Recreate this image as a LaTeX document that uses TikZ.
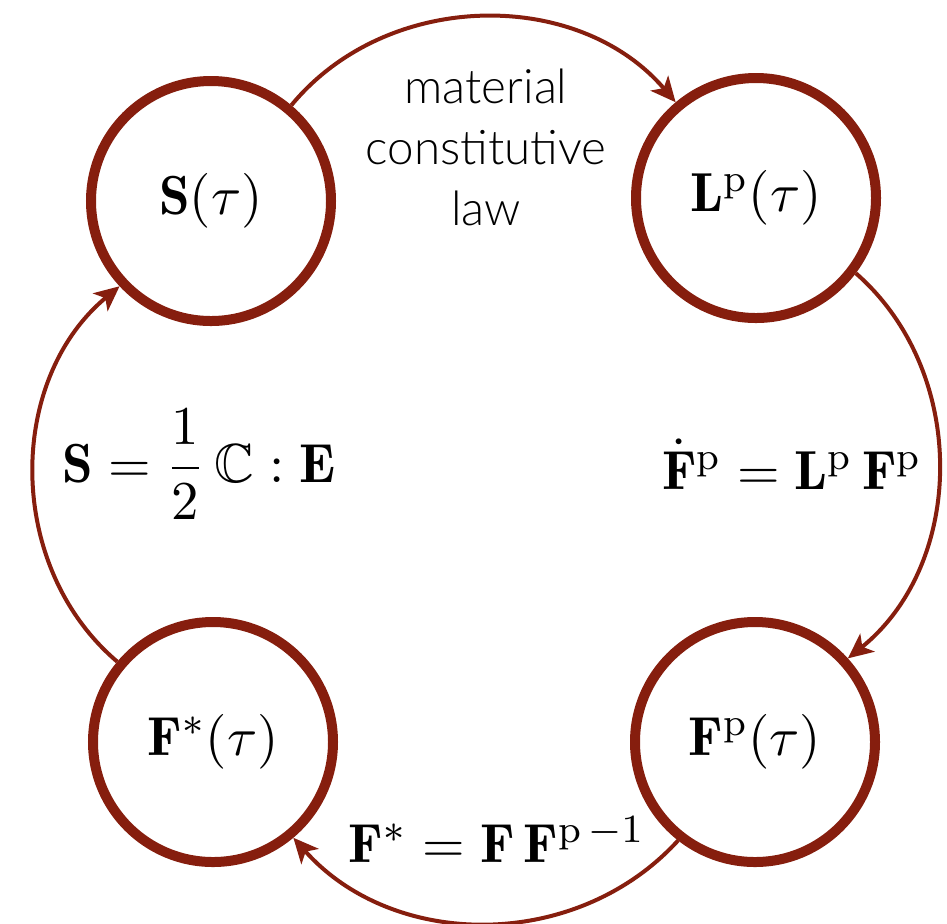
\documentclass[tikz,border=0pt]{standalone}
\usepackage{amsmath,amssymb}
\usepackage{fontspec}
\newfontfamily\gillfont{Lato}[UprightFont={* Light}]
\usetikzlibrary{arrows.meta}
\definecolor{dred}{RGB}{134,30,14}
\begin{document}
\begin{tikzpicture}[x=0.2pt,y=-0.2pt,
  state/.style={circle,draw=dred,line width=2pt,minimum size=48pt,inner sep=0pt,font=\fontsize{11}{13}\selectfont},
  flow/.style={draw=dred,line width=0.8pt,-{Stealth[length=5pt,width=4.6pt,inset=1.3pt]}},
  lbl/.style={font=\fontsize{11}{13}\selectfont,inner sep=0pt},
  txt/.style={font=\gillfont\fontsize{9.5}{12.2}\selectfont,align=center,inner sep=0pt}]
\useasboundingbox (0,0) rectangle (947,923);
\node[state] (S) at (211,201) {$\mathbf{S}(\tau)$};
\node[state] (L) at (756,198) {$\mathbf{L}^{\mathrm{p}}(\tau)$};
\node[state] (Fs) at (213,742) {$\mathbf{F}^{*}(\tau)$};
\node[state] (Fp) at (755,742) {$\mathbf{F}^{\mathrm{p}}(\tau)$};
\draw[flow] (S.50) to[bend left=50] (L.130);
\draw[flow] (L.-37) to[bend left=50] (Fp.42);
\draw[flow] (Fp.-128) to[bend left=48] (Fs.-50);
\draw[flow] (Fs.140) to[bend left=50] (S.-137);
\node[txt] (law) at (486,147) {material\\constitutive\\law};
\node[lbl,anchor=base] (eqS) at (199,482) {$\mathbf{S} = \dfrac{1}{2}\,\mathbb{C} : \mathbf{E}$};
\node[lbl,anchor=base] (eqF) at (792,489) {$\dot{\mathbf{F}}^{\mathrm{p}} = \mathbf{L}^{\mathrm{p}}\,\mathbf{F}^{\mathrm{p}}$};
\node[lbl,anchor=base] (eqFs) at (497,862) {$\mathbf{F}^{*} = \mathbf{F}\,\mathbf{F}^{\mathrm{p}\,-1}$};
\end{tikzpicture}
\end{document}
